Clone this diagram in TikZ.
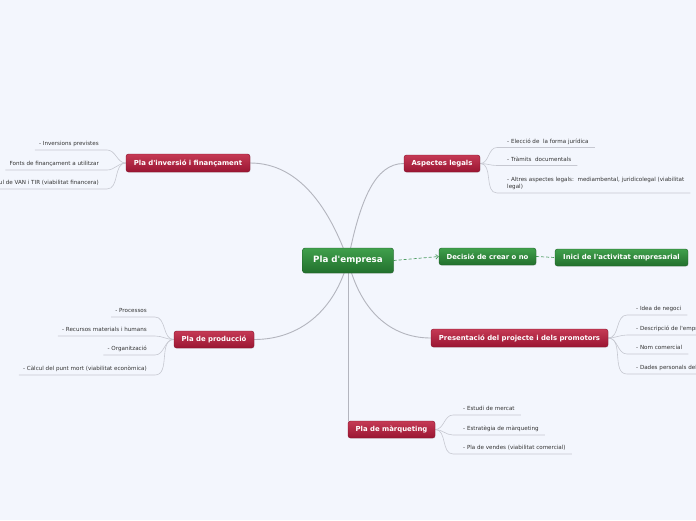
\documentclass[tikz,border=0pt]{standalone}
\usepackage{fontspec}
\newfontfamily\dv{DejaVu Sans}
\usetikzlibrary{arrows.meta,shadows}
\definecolor{bgc}{HTML}{F3F6FD}
\definecolor{redtop}{HTML}{C53A55}
\definecolor{redbot}{HTML}{9A1532}
\definecolor{redborder}{HTML}{85102A}
\definecolor{grtop}{HTML}{40A04C}
\definecolor{grbot}{HTML}{22702D}
\definecolor{grborder}{HTML}{1C5E26}
\definecolor{mainline}{HTML}{B3B5BE}
\definecolor{leafline}{HTML}{C6C8D1}
\definecolor{dashgreen}{HTML}{4E9E63}
\definecolor{leaftext}{HTML}{333333}
\pgfdeclarelayer{bg}
\pgfdeclarelayer{lines}
\pgfsetlayers{bg,lines,main}
\tikzset{
  box/.style={rounded corners=2.5pt, inner sep=0pt, text=white,
    font=\dv\fontsize{6.9}{8}\selectfont\bfseries, align=center,
    drop shadow={opacity=0.15, shadow xshift=0.6pt, shadow yshift=-0.8pt}},
  redbox/.style={box, top color=redtop, bottom color=redbot, draw=redborder, line width=0.4pt},
  greenbox/.style={box, top color=grtop, bottom color=grbot, draw=grborder, line width=0.4pt},
  leaf/.style={inner xsep=0pt, inner ysep=4pt, text depth=0pt,
    font=\dv\fontsize{5.6}{7}\selectfont, text=leaftext},
  leafR/.style={leaf, anchor=south west},
  leafL/.style={leaf, anchor=south east},
  branch/.style={draw=mainline, line width=0.9pt},
  twig/.style={draw=leafline, line width=0.6pt},
  link/.style={draw=dashgreen, dash pattern=on 3pt off 2pt, line width=0.7pt},
}
\begin{document}
\begin{tikzpicture}[x=1pt,y=-1pt]
\begin{pgfonlayer}{bg}
\fill[bgc] (0,0) rectangle (696,520);
\end{pgfonlayer}
\useasboundingbox (0,0) rectangle (696,520);
\clip (0,0) rectangle (696,520);

% main nodes
\node[greenbox, minimum width=91pt, minimum height=25pt,
  font=\dv\fontsize{8.7}{10}\selectfont\bfseries] (C) at (348,260.5) {Pla d'empresa};
\node[greenbox, minimum width=97pt, minimum height=17pt] (D) at (487.5,256.5) {Decisió de crear o no};
\node[greenbox, minimum width=133pt, minimum height=17pt] (I) at (621.5,257.5) {Inici de l'activitat empresarial};
\node[redbox, minimum width=76pt, minimum height=17pt] (A) at (442,163.5) {Aspectes legals};
\node[redbox, minimum width=124pt, minimum height=18pt] (V) at (188,163) {Pla d'inversió i finançament};
\node[redbox, minimum width=80pt, minimum height=17pt] (P) at (214,339.5) {Pla de producció};
\node[redbox, minimum width=177pt, minimum height=18pt] (R) at (519.5,338) {Presentació del projecte i dels promotors};
\node[redbox, minimum width=87pt, minimum height=17pt] (M) at (391.5,429.5) {Pla de màrqueting};

% leaves: Aspectes legals
\node[leafR] (a1) at (507,147.5) {- Elecció de\ \ la forma jurídica};
\node[leafR] (a2) at (507,165.5) {- Tràmits\ \ documentals};
\node[leafR, align=left] (a3) at (507,193) {- Altres aspectes legals:\ \ mediambental, juridicolegal (viabilitat\\legal)};
% leaves: Pla d'inversió
\node[leafL] (v1) at (99,150) {- Inversions previstes};
\node[leafL] (v2) at (99,170) {Fonts de finançament a utilitzar};
\node[leafL] (v3) at (99,189) {- Càlcul de VAN i TIR (viabilitat financera)};
% leaves: Pla de producció
\node[leafL] (p1) at (147,317) {- Processos};
\node[leafL] (p2) at (147,336) {- Recursos materials i humans};
\node[leafL] (p3) at (147,355) {- Organització};
\node[leafL] (p4) at (147,375) {- Càlcul del punt mort (viabilitat econòmica)};
% leaves: Presentació
\node[leafR] (r1) at (636,315) {- Idea de negoci};
\node[leafR] (r2) at (636,335) {- Descripció de l'empresa};
\node[leafR] (r3) at (636,354) {- Nom comercial};
\node[leafR] (r4) at (636,374) {- Dades personals dels promotors};
% leaves: Màrqueting
\node[leafR] (m1) at (463,415) {- Estudi de mercat};
\node[leafR] (m2) at (463,435) {- Estratègia de màrqueting};
\node[leafR] (m3) at (463,454) {- Pla de vendes (viabilitat comercial)};

\begin{pgfonlayer}{lines}
\clip (0,0) rectangle (696,520);
\draw[branch] (C.center) .. controls (360,200) and (375,163.5) .. (A.west);
\draw[branch] (C.center) .. controls (330,210) and (300,163) .. (V.east);
\draw[branch] (C.center) .. controls (335,310) and (300,339.5) .. (P.east);
\draw[branch] (C.center) .. controls (360,310) and (390,338) .. (R.west);
\draw[branch] (C.center) -- (C.center |- M.north);

\foreach \n in {a1,a2,a3}
  \draw[twig] (A.east) to[out=0,in=180] ([xshift=-10pt]\n.south west) -- ([xshift=6pt]\n.south east);
\foreach \n in {v1,v2,v3}
  \draw[twig] ([xshift=-4pt]\n.south west) -- ([xshift=8pt]\n.south east) to[out=0,in=180] (V.west);
\foreach \n in {p1,p2,p3,p4}
  \draw[twig] ([xshift=-4pt]\n.south west) -- ([xshift=8pt]\n.south east) to[out=0,in=180] (P.west);
\foreach \n in {r1,r2,r3,r4}
  \draw[twig] (R.east) to[out=0,in=180] ([xshift=-9pt]\n.south west) -- ([xshift=6pt]\n.south east);
\foreach \n in {m1,m2,m3}
  \draw[twig] (M.east) to[out=0,in=180] ([xshift=-10pt]\n.south west) -- ([xshift=6pt]\n.south east);

\draw[link, -{Straight Barb[length=2.5pt,width=4.5pt]}] (C.east) -- (D.west);
\draw[link] (D.east) -- (I.west);
\end{pgfonlayer}
\end{tikzpicture}
\end{document}
